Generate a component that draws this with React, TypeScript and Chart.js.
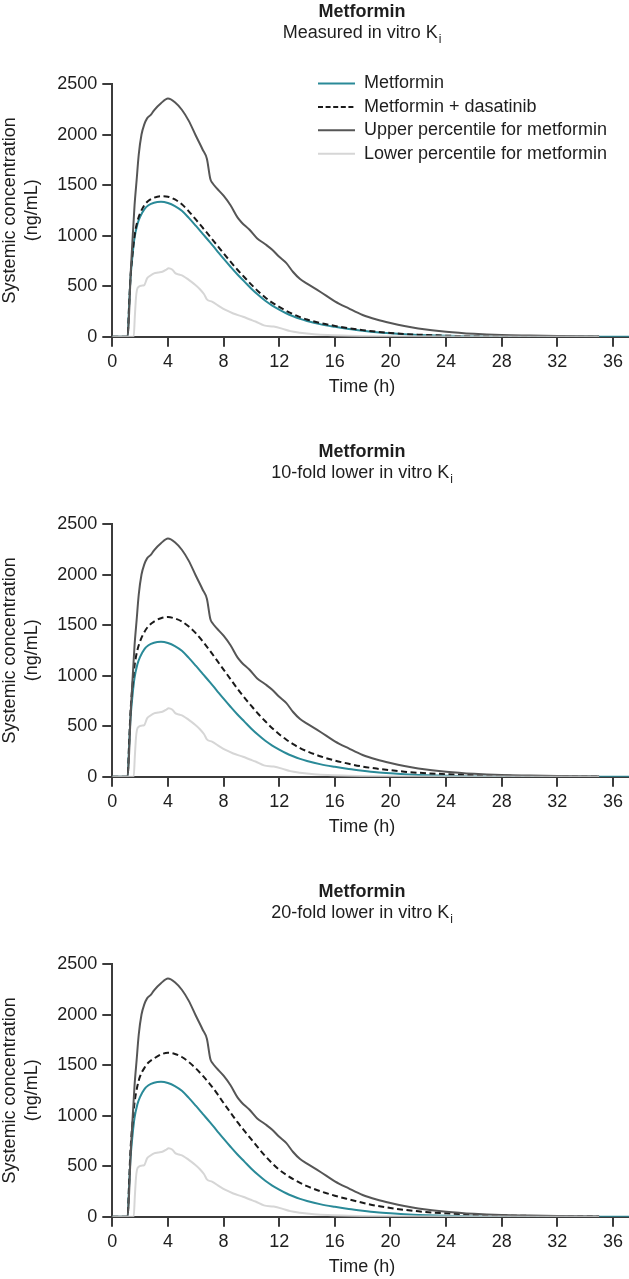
import React, { useEffect, useRef } from 'react';
import { Chart, registerables } from 'chart.js';

Chart.register(...registerables);

const FONT = '"Liberation Sans", Arial, Helvetica, sans-serif';
const TEXT = '#1e1e1e';
const AXIS = '#3c3c3c';

// ---- text ----
const panelTitle = 'Metformin';
const panelSubtitles = ['Measured in vitro K', '10-fold lower in vitro K', '20-fold lower in vitro K'];
const subscript = 'i';
const seriesLabels = [
  'Metformin',
  'Metformin + dasatinib',
  'Upper percentile for metformin',
  'Lower percentile for metformin',
];
const xTitle = 'Time (h)';
const yTitle = ['Systemic concentration', '(ng/mL)'];

// ---- axes ----
const xMin = 0;
const xMax = 37.15;
const xStep = 4;
const yMin = 0;
const yMax = 2500;
const yStep = 500;

// ---- mean curves (shared time grid) ----
const meanTimes = [0, 1.1, 1.2, 1.3, 1.45, 1.6, 1.8, 2.0, 2.3, 2.6, 3.0, 3.5, 4.0, 4.5, 5.0, 5.5, 6.0, 6.5, 7.0, 7.5, 8.0, 8.5, 9.0, 9.5, 10, 10.5, 11, 11.5, 12, 12.5, 13, 13.5, 14, 15, 16, 17, 18, 19, 20, 21, 22, 24, 26, 28, 30, 32, 35, 37.2];

const metforminValues = [0, 0, 280, 560, 800, 980, 1110, 1186, 1260, 1300, 1325, 1334, 1322, 1292, 1245, 1175, 1098, 1018, 938, 855, 772, 692, 615, 545, 475, 412, 355, 308, 268, 232, 202, 176, 155, 122, 98, 77, 60, 45, 34, 25, 18, 9, 5, 3, 2, 1, 0, 0];

const dasatinibMeasured = [0, 0, 285, 570, 815, 1000, 1140, 1220, 1300, 1345, 1375, 1390, 1385, 1358, 1310, 1240, 1160, 1078, 995, 910, 825, 742, 662, 588, 515, 448, 388, 337, 294, 256, 223, 194, 170, 134, 107, 84, 65, 49, 37, 27, 20, 10, 5, 3, 2, 1, 0, null];

const dasatinib10Fold = [0, 0, 300, 620, 900, 1100, 1250, 1340, 1430, 1490, 1535, 1568, 1579, 1565, 1535, 1485, 1420, 1340, 1250, 1155, 1060, 965, 870, 782, 700, 620, 548, 480, 420, 368, 322, 283, 252, 200, 160, 128, 100, 80, 64, 50, 39, 25, 16, 10, 6, 4, 2, null];

const dasatinib20Fold = [0, 0, 305, 640, 920, 1130, 1290, 1390, 1470, 1525, 1565, 1605, 1622, 1610, 1580, 1530, 1468, 1395, 1315, 1225, 1125, 1030, 935, 848, 765, 680, 600, 528, 465, 415, 372, 335, 302, 250, 208, 172, 138, 108, 86, 68, 53, 33, 20, 12, 8, 5, 3, null];

const dasatinibByPanel = [dasatinibMeasured, dasatinib10Fold, dasatinib20Fold];

// ---- percentile curves ----
const upperTimes = [0, 1.1, 1.2, 1.3, 1.45, 1.6, 1.75, 1.9, 2.1, 2.3, 2.5, 2.8, 3.0, 3.5, 4.0, 4.5, 5.0, 5.5, 6.0, 6.5, 6.8, 7.05, 7.2, 7.5, 8, 8.5, 9, 9.3, 9.85, 10.4, 11, 11.5, 12, 12.5, 13, 13.5, 14, 15, 16, 17, 18, 19, 20, 21, 22, 24, 26, 28, 30, 32, 35];
const upperValues = [0, 0, 200, 560, 950, 1300, 1550, 1800, 2000, 2100, 2160, 2200, 2240, 2310, 2356, 2320, 2245, 2135, 1990, 1850, 1760, 1560, 1520, 1470, 1395, 1300, 1180, 1130, 1060, 975, 915, 860, 790, 730, 640, 570, 525, 440, 350, 280, 215, 170, 135, 105, 82, 49, 28, 16, 11, 7, 4];

const lowerTimes = [0, 1.54, 1.62, 1.7, 1.77, 1.9, 2.1, 2.3, 2.5, 2.75, 3.0, 3.3, 3.6, 3.85, 4.05, 4.3, 4.55, 4.8, 5.1, 5.5, 5.9, 6.3, 6.6, 6.8, 7.2, 7.7, 8.1, 8.7, 9.4, 9.9, 10.3, 10.9, 11.6, 12.2, 12.8, 13.5, 14.5, 15.5, 17, 19, 22, 26, 35];
const lowerValues = [0, 0, 200, 380, 461, 494, 505, 511, 577, 605, 626, 635, 643, 660, 678, 665, 626, 615, 600, 562, 520, 470, 420, 370, 345, 300, 267, 230, 197, 170, 150, 112, 100, 80, 55, 40, 25, 16, 9, 5, 2, 1, 0];

// ---- styles ----
const seriesColors = ['#2a8a98', '#1a1a1a', '#565656', '#d6d6d6'];
const seriesDash: number[][] = [[], [6, 3.5], [], []];
const legendDash: number[][] = [[], [5, 2.6], [], []];
const seriesOrder = [3, 2, 1, 0];

const PANEL_H = 440;

const pts = (xs: number[], ys: (number | null)[]) => xs.map((x, i) => ({ x, y: ys[i] }));

const decorPlugin = {
  id: 'decor',
  afterDraw(chart: any, _args: any, opts: any) {
    const ctx = chart.ctx as CanvasRenderingContext2D;
    const ca = chart.chartArea;
    ctx.save();
    ctx.fillStyle = TEXT;
    ctx.textBaseline = 'middle';

    // title
    ctx.font = `bold 18px ${FONT}`;
    ctx.textAlign = 'center';
    ctx.fillText(panelTitle, opts.cx, opts.titleY);

    // subtitle with subscript
    ctx.font = `18px ${FONT}`;
    const w1 = ctx.measureText(opts.subtitle).width;
    ctx.font = `12px ${FONT}`;
    const w2 = ctx.measureText(subscript).width;
    const start = opts.cx - (w1 + w2 + 1) / 2;
    ctx.textAlign = 'left';
    ctx.font = `18px ${FONT}`;
    ctx.fillText(opts.subtitle, start, opts.subY);
    ctx.font = `12px ${FONT}`;
    ctx.fillText(subscript, start + w1 + 1, opts.subY + 6);

    // x-axis title
    ctx.font = `18px ${FONT}`;
    ctx.textAlign = 'center';
    ctx.fillText(xTitle, opts.cx, ca.bottom + 50);

    // legend
    if (opts.legend) {
      const ds = chart.data.datasets;
      ds.forEach((d: any, i: number) => {
        const y = opts.legendY + i * 23.4;
        ctx.beginPath();
        ctx.strokeStyle = d.borderColor;
        ctx.lineWidth = 2;
        ctx.setLineDash(legendDash[i]);
        ctx.moveTo(opts.legendX, y);
        ctx.lineTo(opts.legendX + 37, y);
        ctx.stroke();
        ctx.setLineDash([]);
        ctx.fillStyle = TEXT;
        ctx.textAlign = 'left';
        ctx.font = `18px ${FONT}`;
        ctx.fillText(d.label, opts.legendX + 46, y);
      });
    }
    ctx.restore();
  },
};

function makeConfig(idx: number): any {
  const datasets = [
    { data: pts(meanTimes, metforminValues) },
    { data: pts(meanTimes, dasatinibByPanel[idx]) },
    { data: pts(upperTimes, upperValues) },
    { data: pts(lowerTimes, lowerValues) },
  ].map((d, i) => ({
    ...d,
    label: seriesLabels[i],
    borderColor: seriesColors[i],
    backgroundColor: seriesColors[i],
    borderWidth: 2,
    borderDash: seriesDash[i],
    pointRadius: 0,
    fill: false,
    cubicInterpolationMode: 'monotone',
    spanGaps: false,
    order: seriesOrder[i],
  }));

  const tickFont = { size: 18, family: FONT };
  const grid = { drawOnChartArea: false, drawTicks: true, tickLength: 10, color: AXIS, lineWidth: 2 };
  const border = { display: true, color: AXIS, width: 2 };
  const plain = (v: any) => String(v);

  return {
    type: 'line',
    data: { datasets },
    options: {
      responsive: false,
      maintainAspectRatio: false,
      animation: false,
      devicePixelRatio: 1,
      layout: { padding: { top: 84, bottom: PANEL_H - 336.7 - 61, left: 0, right: 0 } },
      plugins: {
        legend: { display: false },
        tooltip: { enabled: false },
        decor: {
          cx: 362,
          titleY: 12,
          subY: 33.5,
          subtitle: panelSubtitles[idx],
          legend: idx === 0,
          legendX: 318,
          legendY: 83.5,
        },
      },
      scales: {
        x: {
          type: 'linear',
          min: xMin,
          max: xMax,
          afterFit: (s: any) => {
            s.height = 61;
          },
          ticks: {
            stepSize: xStep,
            includeBounds: false,
            autoSkip: false,
            maxRotation: 0,
            font: tickFont,
            color: TEXT,
            padding: 5,
            callback: plain,
          },
          grid,
          border,
        },
        y: {
          type: 'linear',
          min: yMin,
          max: yMax,
          afterFit: (s: any) => {
            s.width = 112.3;
          },
          ticks: {
            stepSize: yStep,
            font: tickFont,
            color: TEXT,
            padding: 5,
            callback: plain,
          },
          grid,
          border,
          title: {
            display: true,
            text: yTitle,
            color: TEXT,
            font: { size: 18, family: FONT, lineHeight: 1.24 },
            padding: { top: -1, bottom: 0 },
          },
        },
      },
    },
    plugins: [decorPlugin],
  };
}

function Panel({ idx }: { idx: number }) {
  const ref = useRef<HTMLCanvasElement>(null);
  useEffect(() => {
    if (!ref.current) return;
    const chart = new Chart(ref.current, makeConfig(idx));
    return () => chart.destroy();
  }, [idx]);
  return (
    <div style={{ position: 'absolute', left: 0, top: idx * PANEL_H, width: 629, height: PANEL_H }}>
      <canvas ref={ref} width={629} height={PANEL_H} style={{ display: 'block', width: 629, height: PANEL_H }} />
    </div>
  );
}

export default function App() {
  useEffect(() => {
    document.body.style.margin = '0';
    document.body.style.background = '#ffffff';
  }, []);
  return (
    <div style={{ position: 'relative', width: 629, height: 1279, overflow: 'hidden', background: '#fff' }}>
      {[0, 1, 2].map((i) => (
        <Panel key={i} idx={i} />
      ))}
    </div>
  );
}
